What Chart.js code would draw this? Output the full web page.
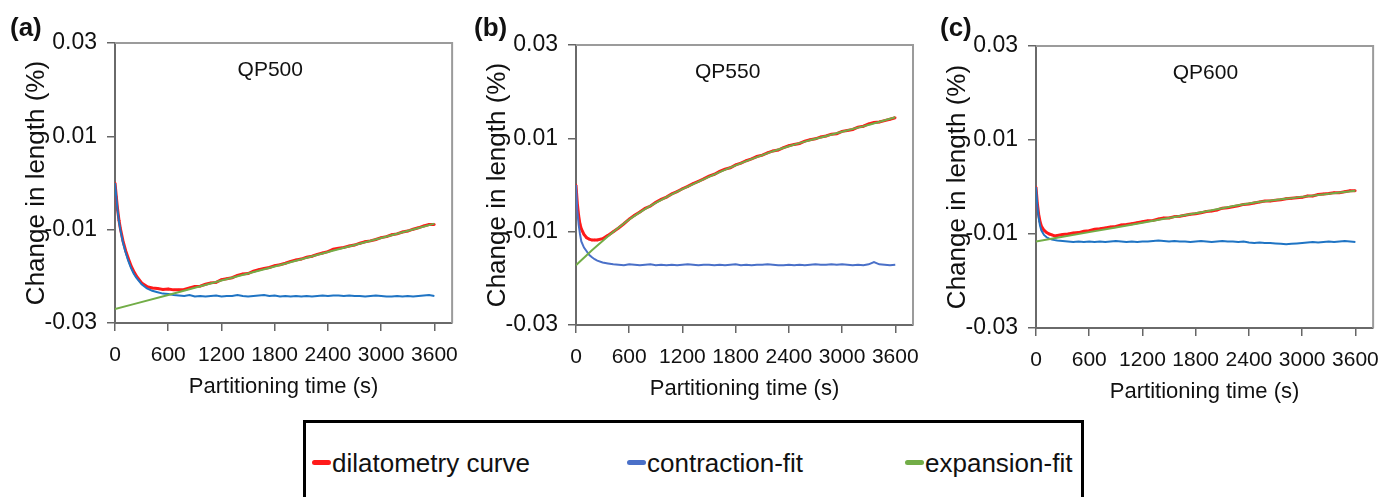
<!DOCTYPE html>
<html>
<head>
<meta charset="utf-8">
<script src="https://cdn.jsdelivr.net/npm/chart.js@4.4.1/dist/chart.umd.min.js"></script>
<style>
  body { margin: 0; width: 1392px; height: 497px; background: #fff; overflow: hidden; position: relative; color: #111; }
  .panel { position: absolute; top: 0; }
  .tag { position: absolute; font-weight: bold; color: #111; }
  #legend { position: absolute; left: 303px; top: 420px; width: 775px; height: 100px; border: 3px solid #000; }
  .item { position: absolute; white-space: nowrap; }
  .mark { position: absolute; top: 460px; width: 19px; height: 5px; border-radius: 3px; }
</style>
</head>
<body>
<canvas id="pa" class="panel" style="left:0px" width="470" height="410"></canvas>
<canvas id="pb" class="panel" style="left:461px" width="470" height="410"></canvas>
<canvas id="pc" class="panel" style="left:921px" width="470" height="410"></canvas>
<div class="tag" style="left:10px">(a)</div>
<div class="tag" style="left:474px">(b)</div>
<div class="tag" style="left:940px">(c)</div>
<div id="legend"></div>
<div id="legendItems"></div>
<script>
// time (s) shared by the measured curve and contraction fit
const times = [0,15,30,45,60,90,120,150,180,210,240,
  300,360,420,480,540,
  600,660,720,780,840,900,960,1020,1080,1140,
  1200,1260,1320,1380,1440,1500,1560,1620,1680,1740,
  1800,1860,1920,1980,2040,2100,2160,2220,2280,2340,
  2400,2460,2520,2580,2640,2700,2760,2820,2880,2940,
  3000,3060,3120,3180,3240,3300,3360,3420,3480,3540,
  3600];

const xTicks = [0, 600, 1200, 1800, 2400, 3000, 3600];
const yTicks = [-0.03, -0.01, 0.01, 0.03];
const seriesNames = ['dilatometry curve', 'contraction-fit', 'expansion-fit'];
const panelNames = ['QP500', 'QP550', 'QP600'];

// QP500
const dilA = [0.0000,-0.0030,-0.0058,-0.0080,-0.0097,-0.0124,-0.0145,-0.0162,-0.0177,-0.0189,-0.0199,
  -0.0214,-0.0222,-0.0225,-0.0226,-0.0228,
  -0.0227,-0.0229,-0.0229,-0.0228,-0.0225,-0.0222,-0.0221,-0.0217,-0.0214,-0.0213,
  -0.0207,-0.0205,-0.0203,-0.0198,-0.0195,-0.0194,-0.0189,-0.0186,-0.0183,-0.0181,
  -0.0177,-0.0175,-0.0172,-0.0168,-0.0165,-0.0163,-0.0159,-0.0157,-0.0153,-0.0150,
  -0.0147,-0.0142,-0.0140,-0.0138,-0.0135,-0.0133,-0.0129,-0.0126,-0.0124,-0.0121,
  -0.0117,-0.0115,-0.0111,-0.0109,-0.0105,-0.0103,-0.0099,-0.0096,-0.0092,-0.0089,
  -0.0089];
const conA = [0.0000,-0.0031,-0.0060,-0.0083,-0.0100,-0.0128,-0.0149,-0.0167,-0.0182,-0.0194,-0.0203,
  -0.0217,-0.0226,-0.0231,-0.0234,-0.0237,
  -0.0238,-0.0240,-0.0241,-0.0242,-0.0240,-0.0243,-0.0242,-0.0243,-0.0242,-0.0241,
  -0.0243,-0.0242,-0.0242,-0.0240,-0.0242,-0.0243,-0.0242,-0.0241,-0.0240,-0.0242,
  -0.0241,-0.0243,-0.0242,-0.0243,-0.0242,-0.0243,-0.0242,-0.0243,-0.0242,-0.0241,
  -0.0242,-0.0241,-0.0241,-0.0242,-0.0241,-0.0242,-0.0242,-0.0243,-0.0242,-0.0241,
  -0.0242,-0.0243,-0.0243,-0.0242,-0.0243,-0.0242,-0.0243,-0.0242,-0.0241,-0.0240,
  -0.0242];
const expTA = [0, 600, 1200, 1800, 2400, 3000, 3600];
const expA = [-0.0270, -0.0240, -0.0209, -0.0179, -0.0148, -0.0118, -0.0087];

// QP550
const dilB = [0.0000,-0.0040,-0.0066,-0.0084,-0.0094,-0.0106,-0.0113,-0.0116,-0.0118,-0.0118,-0.0118,
  -0.0115,-0.0108,-0.0100,-0.0092,-0.0083,
  -0.0073,-0.0065,-0.0058,-0.0050,-0.0045,-0.0037,-0.0031,-0.0026,-0.0019,-0.0014,
  -0.0008,-0.0003,0.0003,0.0008,0.0013,0.0019,0.0023,0.0029,0.0034,0.0037,
  0.0043,0.0047,0.0052,0.0056,0.0061,0.0064,0.0069,0.0073,0.0075,0.0080,
  0.0084,0.0087,0.0089,0.0094,0.0097,0.0099,0.0103,0.0105,0.0109,0.0110,
  0.0115,0.0117,0.0119,0.0124,0.0126,0.0131,0.0134,0.0135,0.0138,0.0141,
  0.0144];
const conB = [0.0000,-0.0055,-0.0085,-0.0105,-0.0121,-0.0134,-0.0142,-0.0150,-0.0155,-0.0159,-0.0162,
  -0.0166,-0.0168,-0.0170,-0.0171,-0.0172,
  -0.0170,-0.0171,-0.0172,-0.0171,-0.0170,-0.0172,-0.0171,-0.0172,-0.0171,-0.0172,
  -0.0171,-0.0170,-0.0171,-0.0172,-0.0171,-0.0171,-0.0172,-0.0171,-0.0172,-0.0171,
  -0.0170,-0.0172,-0.0171,-0.0172,-0.0171,-0.0171,-0.0170,-0.0171,-0.0172,-0.0172,
  -0.0171,-0.0172,-0.0171,-0.0172,-0.0171,-0.0170,-0.0171,-0.0171,-0.0170,-0.0171,
  -0.0170,-0.0171,-0.0172,-0.0171,-0.0172,-0.0170,-0.0165,-0.0170,-0.0171,-0.0172,
  -0.0171];
const expTB = [0,150,300,450,600,800,1000,1200,1400,1600,1800,2000,2200,2400,2600,2800,3000,3200,3400,3600];
const expB = [-0.0172,-0.0145,-0.0120,-0.0096,-0.0074,-0.0049,-0.0028,-0.0009,0.0009,0.0026,
  0.0042,0.0057,0.0071,0.0083,0.0094,0.0104,0.0114,0.0124,0.0134,0.0145];

// QP600
const dilC = [0.0000,-0.0035,-0.0058,-0.0073,-0.0083,-0.0092,-0.0097,-0.0100,-0.0102,-0.0104,-0.0103,
  -0.0101,-0.0100,-0.0098,-0.0097,-0.0094,
  -0.0093,-0.0090,-0.0089,-0.0087,-0.0085,-0.0084,-0.0081,-0.0080,-0.0078,-0.0076,
  -0.0074,-0.0072,-0.0071,-0.0068,-0.0066,-0.0066,-0.0063,-0.0062,-0.0060,-0.0058,
  -0.0057,-0.0055,-0.0052,-0.0051,-0.0049,-0.0045,-0.0044,-0.0042,-0.0040,-0.0037,
  -0.0036,-0.0034,-0.0032,-0.0030,-0.0030,-0.0028,-0.0027,-0.0025,-0.0024,-0.0023,
  -0.0022,-0.0019,-0.0019,-0.0016,-0.0015,-0.0014,-0.0012,-0.0012,-0.0010,-0.0008,
  -0.0008];
const conC = [0.0000,-0.0040,-0.0065,-0.0082,-0.0092,-0.0102,-0.0107,-0.0110,-0.0112,-0.0113,-0.0114,
  -0.0115,-0.0116,-0.0117,-0.0116,-0.0117,
  -0.0116,-0.0117,-0.0116,-0.0117,-0.0116,-0.0115,-0.0116,-0.0117,-0.0116,-0.0117,
  -0.0116,-0.0116,-0.0115,-0.0114,-0.0115,-0.0116,-0.0115,-0.0116,-0.0116,-0.0117,
  -0.0116,-0.0115,-0.0116,-0.0117,-0.0116,-0.0115,-0.0116,-0.0116,-0.0117,-0.0116,
  -0.0118,-0.0119,-0.0118,-0.0119,-0.0119,-0.0120,-0.0121,-0.0122,-0.0121,-0.0120,
  -0.0119,-0.0118,-0.0117,-0.0118,-0.0117,-0.0116,-0.0117,-0.0116,-0.0115,-0.0116,
  -0.0117];
const expTC = [0, 600, 1200, 1800, 2400, 3000, 3600];
const expC = [-0.0116, -0.0096, -0.0076, -0.0056, -0.0035, -0.0021, -0.0008];

const RED = '#ff1a1a', GREEN = '#72ad47', BLUE_AC = '#1f74c4', BLUE_B = '#4a70c8';
const TXT = '#111';

// the figure uses a narrow sans; use Liberation Sans Narrow when it is there
function hasFont(name) {
  const c = document.createElement('canvas').getContext('2d');
  c.font = '40px monospace';
  const a = c.measureText('1200 abcdefg').width;
  c.font = '40px "' + name + '", monospace';
  return Math.abs(c.measureText('1200 abcdefg').width - a) > 0.5;
}
const NARROW = hasFont('Liberation Sans Narrow');
const FONT = NARROW ? '"Liberation Sans Narrow", "Liberation Sans", Arial, sans-serif'
                    : '"Liberation Sans", Arial, sans-serif';
const SZ = NARROW
  ? {xTick: 26, yTick: 26, xTitle: 26, yTitle: 30, name: 25, tag: 31, legend: 32}
  : {xTick: 21, yTick: 23, xTitle: 22, yTitle: 26, name: 21, tag: 26, legend: 26};

const framePlugin = {
  id: 'frame',
  afterDraw(chart, args, opts) {
    const {ctx, chartArea: a} = chart;
    ctx.save();
    ctx.strokeStyle = '#9b9b9b';
    ctx.lineWidth = 2;
    ctx.beginPath();
    ctx.moveTo(a.left, a.top);
    ctx.lineTo(a.right, a.top);
    ctx.lineTo(a.right, a.bottom);
    ctx.stroke();
    ctx.fillStyle = TXT;
    ctx.font = SZ.name + 'px ' + FONT;
    ctx.textAlign = 'center';
    ctx.textBaseline = 'middle';
    ctx.fillText(opts.name, chart.scales.x.getPixelForValue(opts.x), chart.scales.y.getPixelForValue(opts.y));
    ctx.restore();
  }
};

function pts(xs, ys) { return xs.map((x, i) => ({x: x, y: ys[i]})); }

function makePanel(id, name, nameX, nameY, dil, con, expT, exp, blue, pad) {
  new Chart(document.getElementById(id), {
    type: 'line',
    data: {
      datasets: [
        {label: seriesNames[0], data: pts(times, dil), borderColor: RED, backgroundColor: RED,
         borderWidth: 3, pointRadius: 1.2, pointBorderWidth: 0, order: 3},
        {label: seriesNames[1], data: pts(times, con), borderColor: blue,
         borderWidth: 2, pointRadius: 0, order: 2},
        {label: seriesNames[2], data: pts(expT, exp), borderColor: GREEN,
         borderWidth: 2, pointRadius: 0, order: 1, cubicInterpolationMode: 'monotone'}
      ]
    },
    options: {
      responsive: false,
      animation: false,
      layout: {padding: {left: 0, top: pad[0], right: pad[1], bottom: pad[2]}},
      plugins: {
        legend: {display: false},
        tooltip: {enabled: false},
        frame: {name: name, x: nameX, y: nameY}
      },
      scales: {
        x: {
          type: 'linear', min: 0, max: 3800,
          afterFit: s => { s.height = 80; },
          afterBuildTicks: s => { s.ticks = xTicks.map(v => ({value: v})); },
          ticks: {font: {family: FONT, size: SZ.xTick}, color: TXT, padding: 12,
                  maxRotation: 0, autoSkip: false, callback: v => String(v)},
          grid: {drawOnChartArea: false, tickLength: 8, color: '#666', lineWidth: 1.5},
          border: {color: '#6a6a6a', width: 2},
          title: {display: true, text: 'Partitioning time (s)', color: TXT,
                  font: {family: FONT, size: SZ.xTitle}, padding: {top: 0, bottom: 3}}
        },
        y: {
          type: 'linear', min: -0.03, max: 0.03,
          afterFit: s => { s.width = 115; },
          afterBuildTicks: s => { s.ticks = yTicks.map(v => ({value: v})); },
          ticks: {font: {family: FONT, size: SZ.yTick}, color: TXT, padding: 10, callback: v => v.toFixed(2)},
          grid: {drawOnChartArea: false, tickLength: 8, color: '#666', lineWidth: 1.5},
          border: {color: '#6a6a6a', width: 2},
          title: {display: true, text: 'Change in length (%)', color: TXT,
                  font: {family: FONT, size: SZ.yTitle}, padding: {top: NARROW ? 19 : 21, bottom: 0}}
        }
      }
    },
    plugins: [framePlugin]
  });
}

makePanel('pa', panelNames[0], 1750, 0.0242, dilA, conA, expTA, expA, BLUE_AC, [43, 5, 7]);
makePanel('pb', panelNames[1], 1710, 0.0242, dilB, conB, expTB, expB, BLUE_B, [45, 7, 5]);
makePanel('pc', panelNames[2], 1910, 0.0242, dilC, conC, expTC, expC, BLUE_AC, [46, 5, 2]);

// panel letters
document.querySelectorAll('.tag').forEach(t => {
  t.style.fontFamily = FONT;
  t.style.fontSize = SZ.tag + 'px';
  t.style.lineHeight = SZ.tag + 'px';
  t.style.top = (28 - Math.round(SZ.tag * 0.53)) + 'px';
});

// shared legend under the three panels
const legendColors = [RED, BLUE_B, GREEN];
const markLeft = [312, 627, 905];
const holder = document.getElementById('legendItems');
seriesNames.forEach((n, i) => {
  const m = document.createElement('div');
  m.className = 'mark';
  m.style.left = markLeft[i] + 'px';
  m.style.background = legendColors[i];
  holder.appendChild(m);
  const t = document.createElement('div');
  t.className = 'item';
  t.style.left = (markLeft[i] + 20) + 'px';
  t.style.fontFamily = FONT;
  t.style.fontSize = SZ.legend + 'px';
  t.style.lineHeight = (SZ.legend + 4) + 'px';
  t.style.top = (463 - Math.round((SZ.legend + 4) / 2)) + 'px';
  t.textContent = n;
  holder.appendChild(t);
});
</script>
</body>
</html>
